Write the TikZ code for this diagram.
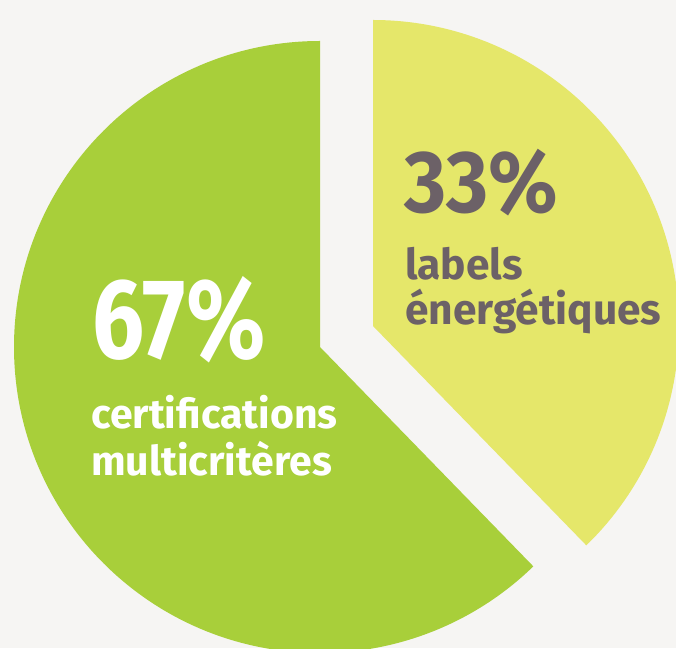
\documentclass[tikz,border=0pt]{standalone}
\usepackage{fontspec}
\setmainfont{Fira Sans}
\definecolor{bgc}{HTML}{F6F5F3}
\definecolor{grn}{HTML}{A8CF3A}
\definecolor{yel}{HTML}{E5E76A}
\definecolor{txg}{HTML}{6C6167}
\begin{document}
\begin{tikzpicture}[x=1pt,y=1pt,
  big/.style={inner sep=0pt,anchor=base west,font=\bfseries},
  lbl/.style={inner sep=0pt,anchor=base west,font=\bfseries,align=left}]
\fill[bgc] (0,0) rectangle (676,648);
\useasboundingbox (0,0) rectangle (676,648);
\begin{scope}
\clip (0,0) rectangle (676,648);
\fill[grn] (320,301) -- ++(90:306) arc[start angle=90,end angle=314.2,radius=306] -- cycle;
\fill[yel] (373,322) -- ++(-45.8:306) arc[start angle=-45.8,end angle=90,radius=306] -- cycle;
\end{scope}
\node[big,text=white,font=\bfseries\fontsize{114}{114}\selectfont] (p67) at (92,289) {\scalebox{0.81}[1]{67\%}};
\node[lbl,text=white,font=\bfseries\fontsize{41}{47}\selectfont] (t67) at (91,220) {certifications};
\node[lbl,text=white,font=\bfseries\fontsize{41}{47}\selectfont] (u67) at (91,173) {multicritères};
\node[big,text=txg,font=\bfseries\fontsize{88}{88}\selectfont] (p33) at (404,435) {\scalebox{0.92}[1]{33\%}};
\node[lbl,text=txg,font=\bfseries\fontsize{42.5}{45}\selectfont] (t33) at (405,368) {labels};
\node[lbl,text=txg,font=\bfseries\fontsize{42.5}{45}\selectfont] (u33) at (405,323) {énergétiques};
\end{tikzpicture}
\end{document}
